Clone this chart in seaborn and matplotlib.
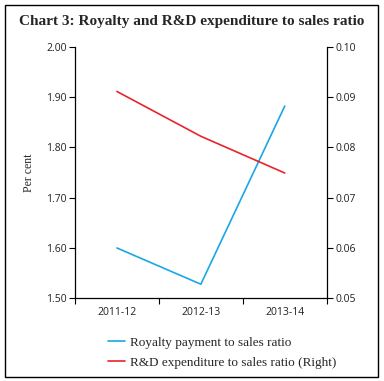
import pandas as pd
import numpy as np
import matplotlib
matplotlib.use("Agg")
import matplotlib.pyplot as plt
import seaborn as sns
from matplotlib.patches import Rectangle

# data
years = ['2011-12', '2012-13', '2013-14']
royalty = [1.600, 1.528, 1.882]
rnd = [0.0911, 0.0822, 0.0749]

blue = '#1aa7e4'
red = '#e8232b'
serif = 'Liberation Serif'
sans = 'Open Sans'

sns.set_style('ticks')
plt.rcParams['font.family'] = ['DejaVu Sans']

df = pd.DataFrame({'x': np.arange(len(years)), 'royalty': royalty, 'rnd': rnd})

fig = plt.figure(figsize=(3.84, 3.81), dpi=100)
ax = fig.add_axes([75 / 384, 1 - 298.3 / 381, (326.7 - 75) / 384, (298.3 - 46.7) / 381])
ax2 = ax.twinx()

sns.lineplot(data=df, x='x', y='royalty', ax=ax, color=blue, linewidth=1.2,
             label='Royalty payment to sales ratio', legend=False)
sns.lineplot(data=df, x='x', y='rnd', ax=ax2, color=red, linewidth=1.2,
             label='R&D expenditure to sales ratio (Right)', legend=False)

ax.set_xlim(-0.5, len(years) - 0.5)
ax.set_ylim(1.5, 2.0)
ax2.set_ylim(0.05, 0.10)
ax.set_yticks(np.arange(1.5, 2.001, 0.1))
ax2.set_yticks(np.arange(0.05, 0.1001, 0.01))
ax.set_yticklabels([f'{v:.2f}' for v in ax.get_yticks()])
ax2.set_yticklabels([f'{v:.2f}' for v in ax2.get_yticks()])

# boundary ticks between categories, labels centred on categories
ax.set_xticks(np.arange(-0.5, len(years), 1.0))
ax.set_xticklabels([])
ax.set_xticks(np.arange(len(years)), minor=True)
ax.set_xticklabels(years, minor=True)
ax.tick_params(axis='x', which='major', direction='out', length=4, width=0.8, color='black')
ax.tick_params(axis='x', which='minor', length=0, pad=6)
ax.tick_params(axis='y', direction='out', length=4, width=0.8, color='black', pad=2)
ax2.tick_params(axis='y', direction='out', length=4, width=0.8, color='black', pad=2)

for t in ax.get_xticklabels(minor=True) + ax.get_yticklabels() + ax2.get_yticklabels():
    t.set_fontfamily(sans)
    t.set_fontsize(7.5)
    t.set_color('#222222')

ax.set_xlabel('')
ax.set_ylabel('Per cent', fontfamily=serif, fontsize=8.5, labelpad=8)
ax2.set_ylabel('')

for a in (ax, ax2):
    a.spines['top'].set_visible(False)
    for s in ('left', 'right', 'bottom'):
        a.spines[s].set_linewidth(0.9)
        a.spines[s].set_color('black')
ax.spines['right'].set_visible(False)
ax2.spines['left'].set_visible(False)
ax2.spines['bottom'].set_visible(False)

h1, l1 = ax.get_legend_handles_labels()
h2, l2 = ax2.get_legend_handles_labels()
fig.legend(h1 + h2, l1 + l2, loc='upper left', bbox_to_anchor=(103 / 384, 1 - 331 / 381),
           frameon=False, prop={'family': serif, 'size': 9.5}, handlelength=1.3,
           handletextpad=0.35, labelspacing=0.6, borderaxespad=0)

fig.text(0.5, 1 - 22 / 381, 'Chart 3: Royalty and R&D expenditure to sales ratio',
         ha='center', va='center', fontfamily=serif, fontweight='bold', fontsize=11)

fig.patches.append(Rectangle((5 / 384, 1 - 377 / 381), 373 / 384, 372.5 / 381,
                             transform=fig.transFigure, fill=False, edgecolor='black', linewidth=1.0))

fig.savefig('out.png', dpi=100)
